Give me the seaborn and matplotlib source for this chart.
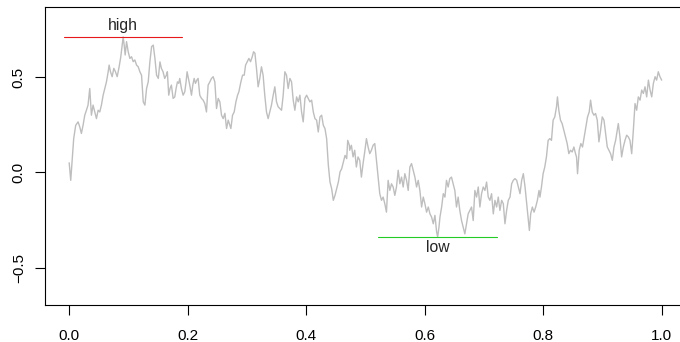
import numpy as np
import pandas as pd
import matplotlib
matplotlib.use("Agg")
import matplotlib.pyplot as plt
import seaborn as sns

# Brownian path sampled on [0, 1]
t = [
    0.0, 0.0026, 0.0076, 0.011, 0.015, 0.0178, 0.0206, 0.0234, 0.0263, 0.0291,
    0.0318, 0.0347, 0.0375, 0.0403, 0.0432, 0.046, 0.0488, 0.0516, 0.0544, 0.0573,
    0.0601, 0.0629, 0.0658, 0.0674, 0.0697, 0.0725, 0.0753, 0.0781, 0.081, 0.0843,
    0.0871, 0.0894, 0.0911, 0.0928, 0.0945, 0.0968, 0.0996, 0.1024, 0.1052, 0.108,
    0.1108, 0.1137, 0.1165, 0.1193, 0.1221, 0.125, 0.1278, 0.1306, 0.1334, 0.1362,
    0.1391, 0.1419, 0.1447, 0.1475, 0.1504, 0.1532,
    0.1556, 0.1584, 0.1612, 0.164, 0.1657, 0.168, 0.1702, 0.1725, 0.1754, 0.1782,
    0.1804, 0.1827, 0.1849, 0.1866, 0.1894, 0.1923, 0.1951, 0.1973, 0.199, 0.2013,
    0.2035, 0.2064, 0.2086, 0.2109, 0.2131, 0.2154, 0.2176, 0.2204, 0.2233, 0.2261,
    0.2289, 0.2317, 0.2345, 0.2374, 0.2402, 0.243, 0.2458, 0.2487, 0.2515, 0.2543,
    0.2571, 0.2599, 0.2628, 0.2656, 0.2684, 0.2712, 0.2729, 0.2757, 0.2785, 0.2814,
    0.2842, 0.2864, 0.2898, 0.2926, 0.2954, 0.2977, 0.3005, 0.3033, 0.3061, 0.309,
    0.3112, 0.3135,
    0.3161, 0.3189, 0.3217, 0.3245, 0.3273, 0.3301, 0.333, 0.3358, 0.3386, 0.3414,
    0.3443, 0.3471, 0.3499, 0.3527, 0.3555, 0.3584, 0.3612, 0.364, 0.3668, 0.3696,
    0.3725, 0.3753, 0.3781, 0.3809, 0.3838, 0.3866, 0.3894, 0.3922, 0.395, 0.3979,
    0.4007, 0.4035, 0.4063, 0.4092, 0.412, 0.4148, 0.4176, 0.4204, 0.4233, 0.4261,
    0.4289, 0.4317, 0.4345, 0.4374, 0.4402, 0.443, 0.4458, 0.4486, 0.4515, 0.4543,
    0.4571, 0.4599, 0.4628, 0.4656, 0.4684, 0.4701, 0.4729,
    0.4734, 0.4763, 0.4791, 0.4819, 0.4847, 0.4875, 0.4904, 0.4932, 0.496, 0.4988,
    0.5017, 0.5045, 0.5073, 0.5101, 0.5129, 0.5158, 0.5186, 0.5214, 0.5242, 0.5271,
    0.5299, 0.5327, 0.5355, 0.5383, 0.5412, 0.544, 0.5468, 0.5496, 0.5524, 0.5553,
    0.5581, 0.5609, 0.5637, 0.5665, 0.5694, 0.5722, 0.575, 0.5778, 0.5807, 0.5835,
    0.5863, 0.5891, 0.5919, 0.5948, 0.5976, 0.6004, 0.6032, 0.6061, 0.6089, 0.6117,
    0.6145, 0.6173, 0.6202, 0.6219, 0.6241, 0.6258, 0.6286, 0.6314, 0.6342,
    0.6368, 0.6396, 0.6424, 0.6452, 0.6481, 0.6509, 0.6537, 0.6565, 0.6593, 0.6622,
    0.665, 0.6678, 0.6706, 0.6734, 0.6763, 0.6791, 0.6819, 0.6847, 0.6876, 0.6904,
    0.6932, 0.696, 0.6988, 0.7017, 0.7045, 0.7073, 0.7101, 0.7129, 0.7158, 0.7186,
    0.7214, 0.7242, 0.727, 0.7299, 0.7327, 0.7355, 0.7383, 0.7411, 0.744, 0.7468,
    0.7496, 0.7524, 0.7553, 0.7581, 0.7609, 0.7637, 0.7665, 0.7694, 0.7722, 0.775,
    0.7767, 0.7789, 0.7817, 0.7846, 0.7874, 0.7902, 0.793, 0.7946,
    0.7971, 0.7999, 0.8027, 0.8055, 0.8084, 0.8112, 0.814, 0.8168, 0.8196, 0.8225,
    0.8241, 0.8264, 0.8292, 0.832, 0.8349, 0.8377, 0.8405, 0.8433, 0.8461, 0.849,
    0.8518, 0.8546, 0.8563, 0.858, 0.8608, 0.8636, 0.8664, 0.8693, 0.8721, 0.8749,
    0.8777, 0.88, 0.8828, 0.8856, 0.8884, 0.8913, 0.8941, 0.8969, 0.8997, 0.9026,
    0.9054, 0.9082, 0.911, 0.9138, 0.9167, 0.9195, 0.9223, 0.9251, 0.9268, 0.9296,
    0.9324, 0.9353, 0.9381, 0.9409, 0.9437, 0.9465, 0.9494, 0.9522, 0.955, 0.9578,
    0.9606, 0.9635, 0.9663, 0.9691, 0.9719, 0.9747, 0.9776, 0.9804, 0.9832, 0.986,
    0.9889, 0.9915, 0.9943, 0.9971, 1.0,
]

w = [
    0.05, -0.042, 0.177, 0.247, 0.265, 0.239, 0.204, 0.247, 0.30, 0.326,
    0.353, 0.44, 0.30, 0.353, 0.317, 0.282, 0.326, 0.317, 0.353, 0.405,
    0.44, 0.475, 0.528, 0.563, 0.528, 0.502, 0.546, 0.528, 0.502, 0.554,
    0.607, 0.668, 0.711, 0.668, 0.616, 0.686, 0.633, 0.598, 0.607, 0.581,
    0.59, 0.563, 0.554, 0.528, 0.51, 0.37, 0.353, 0.44, 0.475, 0.581,
    0.66, 0.668, 0.598, 0.51, 0.493, 0.58,
    0.546, 0.528, 0.493, 0.51, 0.528, 0.405, 0.44, 0.458, 0.388, 0.396,
    0.44, 0.475, 0.467, 0.493, 0.44, 0.405, 0.423, 0.475, 0.528, 0.493,
    0.458, 0.405, 0.458, 0.493, 0.467, 0.484, 0.493, 0.405, 0.388, 0.379,
    0.361, 0.317, 0.458, 0.475, 0.493, 0.502, 0.475, 0.335, 0.388, 0.37,
    0.30, 0.282, 0.31, 0.23, 0.274, 0.247, 0.23, 0.30, 0.317, 0.37,
    0.405, 0.423, 0.475, 0.51, 0.51, 0.563, 0.581, 0.598, 0.581, 0.607,
    0.633, 0.625,
    0.546, 0.449, 0.493, 0.554, 0.51, 0.405, 0.317, 0.282, 0.317, 0.353,
    0.405, 0.449, 0.37, 0.344, 0.335, 0.326, 0.405, 0.528, 0.51, 0.44,
    0.493, 0.475, 0.379, 0.326, 0.396, 0.37, 0.405, 0.317, 0.265, 0.388,
    0.405, 0.388, 0.37, 0.379, 0.317, 0.282, 0.274, 0.212, 0.291, 0.30,
    0.247, 0.23, 0.177, 0.037, -0.051, -0.086, -0.147, -0.121, -0.086, -0.051,
    0.002, 0.019, 0.054, 0.089, 0.072, 0.168, 0.142,
    0.116, 0.142, 0.081, 0.116, 0.028, 0.081, 0.063, -0.025, 0.046, 0.107,
    0.177, 0.133, 0.098, 0.116, 0.142, 0.151, 0.063, -0.025, -0.112, -0.147,
    -0.13, -0.165, -0.209, -0.042, -0.095, -0.06, -0.077, -0.121, -0.077, 0.011,
    -0.06, -0.025, -0.077, -0.007, -0.042, -0.095, 0.028, 0.046, 0.011, -0.025,
    -0.077, -0.042, -0.095, -0.182, -0.13, -0.165, -0.209, -0.182, -0.218, -0.235,
    -0.27, -0.226, -0.314, -0.339, -0.288, -0.235, -0.182, -0.112, -0.13,
    -0.042, -0.077, -0.033, -0.025, -0.06, -0.095, -0.182, -0.13, -0.2, -0.253,
    -0.288, -0.323, -0.27, -0.218, -0.2, -0.182, -0.253, -0.095, -0.13, -0.077,
    -0.182, -0.112, -0.077, -0.095, -0.051, -0.13, -0.147, -0.112, -0.218, -0.147,
    -0.182, -0.13, -0.2, -0.147, -0.165, -0.27, -0.2, -0.147, -0.13, -0.06,
    -0.042, -0.033, -0.042, -0.077, -0.112, -0.042, -0.007, -0.077, -0.165, -0.253,
    -0.305, -0.218, -0.182, -0.209, -0.182, -0.147, -0.095, -0.13,
    -0.077, -0.007, 0.028, 0.081, 0.168, 0.177, 0.168, 0.274, 0.291, 0.344,
    0.396, 0.326, 0.274, 0.256, 0.221, 0.186, 0.151, 0.098, 0.116, 0.107,
    0.133, 0.098, 0.081, -0.007, 0.116, 0.151, 0.133, 0.186, 0.239, 0.291,
    0.317, 0.379, 0.317, 0.30, 0.309, 0.274, 0.16, 0.221, 0.291, 0.274,
    0.203, 0.133, 0.116, 0.098, 0.063, 0.133, 0.168, 0.221, 0.256, 0.186,
    0.081, 0.133, 0.168, 0.195, 0.186, 0.168, 0.098, 0.221, 0.361, 0.326,
    0.396, 0.379, 0.432, 0.414, 0.449, 0.396, 0.484, 0.432, 0.396, 0.467,
    0.502, 0.484, 0.528, 0.502, 0.484,
]

x_ticks = [0.0, 0.2, 0.4, 0.6, 0.8, 1.0]
x_tick_labels = ["0.0", "0.2", "0.4", "0.6", "0.8", "1.0"]
y_ticks = [-0.5, 0.0, 0.5]
y_tick_labels = ["\u22120.5", "0.0", "0.5"]
half_width = 0.1  # horizontal extent of the extreme markers around the extremum

df = pd.DataFrame({"t": t, "w": w})

sns.set_style("white")
plt.rcParams["font.family"] = ["Liberation Sans", "DejaVu Sans"]

fig = plt.figure(figsize=(6.8, 3.42), dpi=100)
ax = fig.add_axes([0.0669, 0.109, 0.941, 0.870])

sns.lineplot(data=df, x="t", y="w", ax=ax, color="#BEBEBE", linewidth=1.0,
             estimator=None, sort=False)

i_hi = int(np.argmax(df["w"]))
i_lo = int(np.argmin(df["w"]))
t_hi, w_hi = df["t"][i_hi], df["w"][i_hi]
t_lo, w_lo = df["t"][i_lo], df["w"][i_lo]

ax.plot([t_hi - half_width, t_hi + half_width], [w_hi, w_hi], color="#E8191B", lw=0.8)
ax.plot([t_lo - half_width, t_lo + half_width], [w_lo, w_lo], color="#22CC22", lw=0.8)
ax.annotate("high", (t_hi, w_hi), xytext=(0, 11.5), textcoords="offset pixels",
            ha="center", va="center", fontsize=11.3)
ax.annotate("low", (t_lo, w_lo), xytext=(0, -10.5), textcoords="offset pixels",
            ha="center", va="center", fontsize=11.3)

ax.set_xlim(-0.04, 1.04)
ax.set_ylim(-0.695, 0.867)
ax.set_xticks(x_ticks)
ax.set_xticklabels(x_tick_labels)
ax.set_yticks(y_ticks)
ax.set_yticklabels(y_tick_labels, rotation=90, va="center")
ax.set_xlabel("")
ax.set_ylabel("")

for side in ["top", "right", "bottom", "left"]:
    ax.spines[side].set_visible(True)
    ax.spines[side].set_color("black")
    ax.spines[side].set_linewidth(0.8)

ax.tick_params(axis="both", direction="out", length=7.2, width=0.8,
               color="black", labelsize=11, labelcolor="black",
               bottom=True, left=True, top=False, right=False)
ax.tick_params(axis="x", pad=10)
ax.tick_params(axis="y", pad=7)
ax.grid(False)

fig.savefig("out.png", dpi=100, facecolor="white")
